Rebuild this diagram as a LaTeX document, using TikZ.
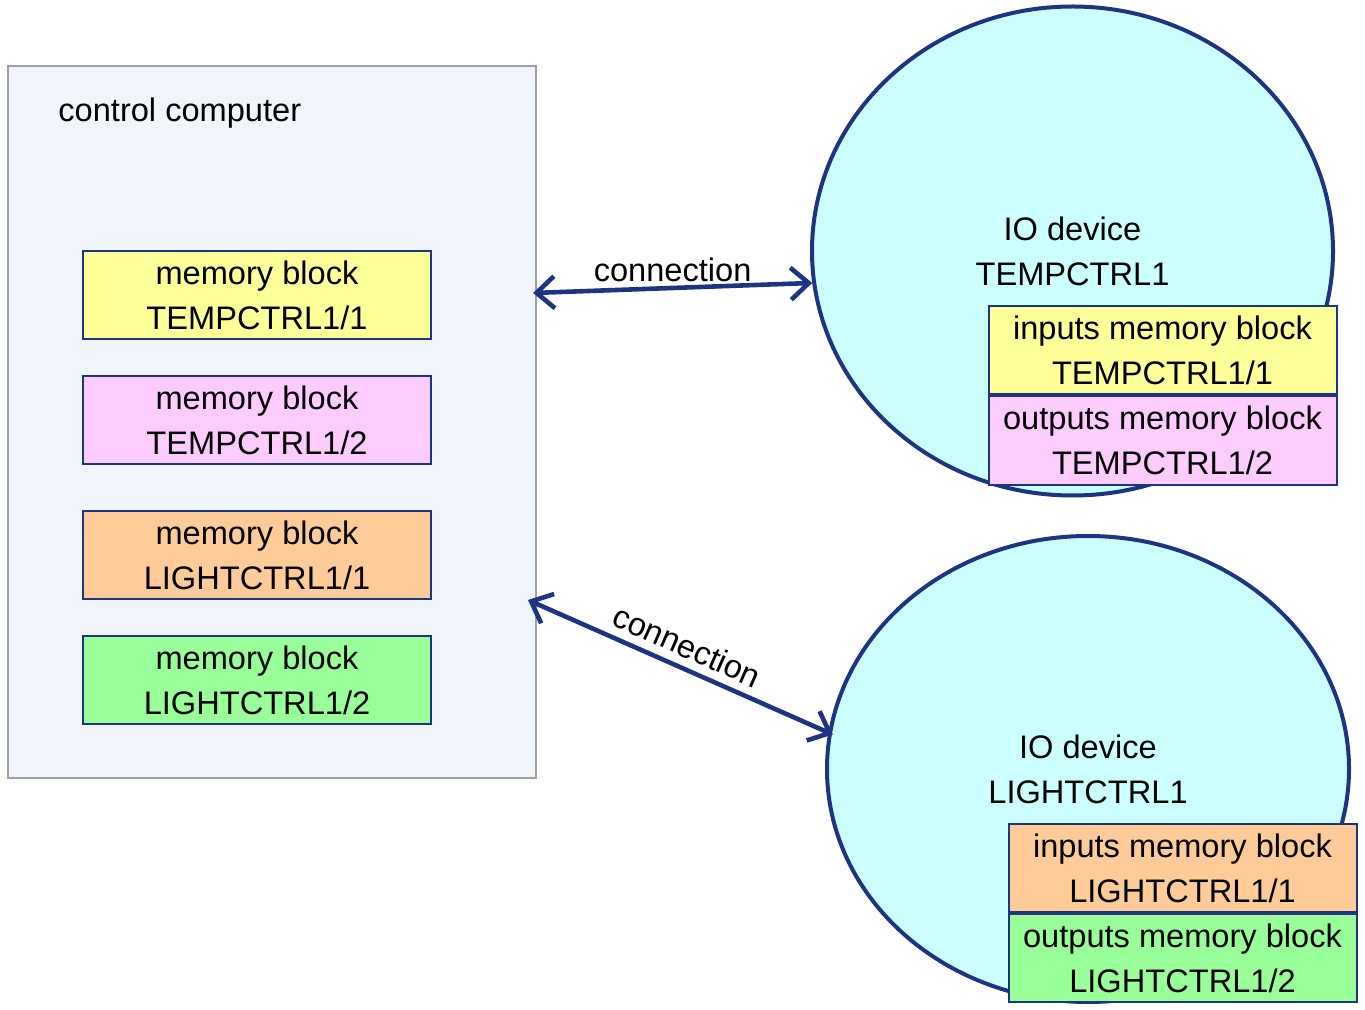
\documentclass[tikz,border=0pt]{standalone}
\usepackage{fontspec}
\setmainfont{Liberation Sans}
\usepackage{xcolor}
\usetikzlibrary{shapes.geometric,arrows.meta,positioning}

\definecolor{linkblue}{RGB}{31,52,128}
\definecolor{boxgray}{RGB}{160,160,160}
\definecolor{compfill}{RGB}{239,245,250}
\definecolor{devcyan}{RGB}{204,255,255}
\definecolor{memyellow}{RGB}{255,255,153}
\definecolor{mempink}{RGB}{255,204,255}
\definecolor{memorange}{RGB}{255,204,153}
\definecolor{memgreen}{RGB}{153,255,153}

\begin{document}
\begin{tikzpicture}[x=0.5pt, y=-0.5pt, font=\fontsize{16.3}{22.5}\selectfont,
    memblock/.style={rectangle, draw=linkblue, line width=1pt, minimum width=174pt, minimum height=44pt, inner sep=0pt, align=center},
    iodevice/.style={ellipse, draw=linkblue, line width=2pt, fill=devcyan, inner sep=0pt, align=center},
    link/.style={{Straight Barb[length=9pt,width=16pt]}-{Straight Barb[length=9pt,width=16pt]}, draw=linkblue, line width=2.3pt}]
    \useasboundingbox (0,0) rectangle (1365,1010);

    % control computer and its memory blocks
    \node [rectangle, draw=boxgray, fill=compfill, line width=0.75pt, minimum width=264pt, minimum height=356pt, inner sep=0pt] (comp) at (272,422) {};
    \node [anchor=west, inner sep=0pt] (comptitle) at (58,113) {control computer};
    \node [memblock, fill=memyellow] (mb1) at (257,295) {memory block\\TEMPCTRL1/1};
    \node [memblock, fill=mempink] (mb2) at (257,420) {memory block\\TEMPCTRL1/2};
    \node [memblock, fill=memorange] (mb3) at (257,555) {memory block\\LIGHTCTRL1/1};
    \node [memblock, fill=memgreen] (mb4) at (257,680) {memory block\\LIGHTCTRL1/2};

    % IO devices
    \node [iodevice, minimum width=260.5pt, minimum height=244.5pt] (io1) at (1072.5,251) {IO device\\TEMPCTRL1};
    \node [memblock, fill=memyellow] (in1) at (1162.5,350.5) {inputs memory block\\TEMPCTRL1/1};
    \node [memblock, fill=mempink, below=0pt of in1] (out1) {outputs memory block\\TEMPCTRL1/2};

    \node [iodevice, minimum width=261pt, minimum height=233pt] (io2) at (1088,769) {IO device\\LIGHTCTRL1};
    \node [memblock, fill=memorange] (in2) at (1182.5,868) {inputs memory block\\LIGHTCTRL1/1};
    \node [memblock, fill=memgreen, below=0pt of in2] (out2) {outputs memory block\\LIGHTCTRL1/2};

    % connections
    \coordinate (cc1) at (533,293);
    \coordinate (cc2) at (528,600);
    \draw [link] (cc1) -- node [above, inner sep=2pt] (lbl1) {connection} (io1.187.6);
    \draw [link, shorten >=-2.5pt] (cc2) -- node [above, sloped, inner sep=4pt] (lbl2) {connection} (io2.172);
\end{tikzpicture}
\end{document}
